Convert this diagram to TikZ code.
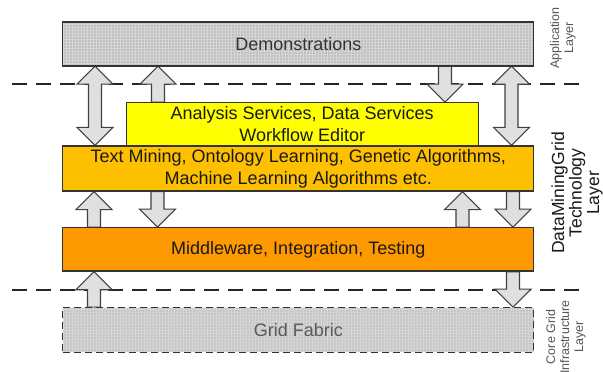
\documentclass[tikz,border=0pt]{standalone}
\usepackage{fontspec}
\setmainfont{Liberation Sans}
\usetikzlibrary{calc,patterns.meta}

\definecolor{boxline}{HTML}{333333}
\definecolor{demogray}{HTML}{C0C0C0}
\definecolor{gridgray}{HTML}{C6C6C6}
\definecolor{svcyellow}{HTML}{FFFF00}
\definecolor{algoorange}{HTML}{FFC000}
\definecolor{midorange}{HTML}{FF9900}
\definecolor{arrowfill}{HTML}{E2E2E2}
\definecolor{arrowline}{HTML}{404040}
\definecolor{labelgray}{HTML}{555555}

\pgfdeclarelayer{background}
\pgfsetlayers{background,main}

\tikzset{
  layer/.style={draw=boxline, line width=1.3pt, minimum width=471pt, inner sep=0pt,
    align=center, font=\fontsize{18}{22}\selectfont, text=black!90},
  dotted fill/.style={preaction={fill=#1},
    pattern={Dots[distance=8pt,radius=0.45pt]}, pattern color=black!35},
  mesh fill/.style={preaction={fill=#1},
    pattern={Hatch[distance=3pt,angle=0,line width=0.35pt]}, pattern color=black!16},
  blkarrow/.style={draw=arrowline, line width=1.1pt, line join=miter,
    preaction={fill=arrowfill},
    pattern={Hatch[distance=3pt,angle=45,line width=0.3pt]}, pattern color=black!14},
  sepline/.style={draw=black!85, line width=2pt, dash pattern=on 15pt off 9pt},
  sidelabel/.style={rotate=90, align=center, inner sep=0pt},
}

% block arrows: #1 centre x (pt), then the two boxes they join
\newcommand{\upblock}[3]{% #2 lower box, #3 upper box
  \path[blkarrow] let \p1=(#2.north), \p2=(#3.south) in
    (#1pt-6.5pt,\y1) -- (#1pt-6.5pt,\y2-18pt) -- (#1pt-18pt,\y2-18pt) -- (#1pt,\y2)
    -- (#1pt+18pt,\y2-18pt) -- (#1pt+6.5pt,\y2-18pt) -- (#1pt+6.5pt,\y1) -- cycle;}
\newcommand{\downblock}[3]{% #2 upper box, #3 lower box
  \path[blkarrow] let \p1=(#3.north), \p2=(#2.south) in
    (#1pt-6.5pt,\y2) -- (#1pt-6.5pt,\y1+18pt) -- (#1pt-18pt,\y1+18pt) -- (#1pt,\y1)
    -- (#1pt+18pt,\y1+18pt) -- (#1pt+6.5pt,\y1+18pt) -- (#1pt+6.5pt,\y2) -- cycle;}
\newcommand{\bothblock}[3]{% #2 upper box, #3 lower box
  \path[blkarrow] let \p1=(#3.north), \p2=(#2.south) in
    (#1pt,\y1) -- (#1pt-18pt,\y1+18pt) -- (#1pt-6.5pt,\y1+18pt) -- (#1pt-6.5pt,\y2-18pt)
    -- (#1pt-18pt,\y2-18pt) -- (#1pt,\y2) -- (#1pt+18pt,\y2-18pt) -- (#1pt+6.5pt,\y2-18pt)
    -- (#1pt+6.5pt,\y1+18pt) -- (#1pt+18pt,\y1+18pt) -- cycle;}

\begin{document}
\begin{tikzpicture}[x=1pt, y=-1pt]
  \useasboundingbox (0,0) rectangle (603,372);

  % layer boxes
  \node[layer, mesh fill=demogray, minimum height=44pt, text=black!80]
    (demo) at (298.3,44) {Demonstrations};
  \node[layer, dotted fill=svcyellow, minimum width=352pt, minimum height=43.3pt]
    (svc) at (302.2,124.4) {Analysis Services, Data Services\\Workflow Editor};
  \node[layer, dotted fill=algoorange, minimum height=45pt]
    (algo) at (298.3,168.5) {Text Mining, Ontology Learning, Genetic Algorithms,\\Machine Learning Algorithms etc.};
  \node[layer, dotted fill=midorange, minimum height=43.3pt]
    (mid) at (298.3,249.4) {Middleware, Integration, Testing};
  \node[layer, mesh fill=gridgray, minimum height=44.6pt, dash pattern=on 7pt off 4pt,
    text=black!65] (fabric) at (298.3,330) {Grid Fabric};

  % layer captions
  \node[sidelabel, font=\fontsize{12.5}{14}\selectfont, text=labelgray]
    (applbl) at (563,38) {Application\\Layer};
  \node[sidelabel, font=\fontsize{17.5}{17.5}\selectfont, text=black!90]
    (dmglbl) at (577,193) {DataMiningGrid\\Technology\\Layer};
  \node[sidelabel, font=\fontsize{12.5}{14}\selectfont, text=labelgray]
    (corelbl) at (566,337) {Core Grid\\Infrastructure\\Layer};

  \begin{pgfonlayer}{background}
    \fill[white] (0,0) rectangle (603,372);

    % layer separators
    \coordinate (sepAl) at (12,84);  \coordinate (sepAr) at (579,84);
    \coordinate (sepBl) at (12,290); \coordinate (sepBr) at (579,290);
    \draw[sepline] (sepAl) -- (sepAr);
    \draw[sepline] (sepBl) -- (sepBr);

    % application <-> technology
    \bothblock{95}{demo}{algo}
    \upblock{158}{svc}{demo}
    \downblock{445}{demo}{svc}
    \bothblock{511.5}{demo}{algo}

    % algorithms <-> middleware
    \upblock{94}{mid}{algo}
    \downblock{157.5}{algo}{mid}
    \upblock{462.5}{mid}{algo}
    \downblock{513}{algo}{mid}

    % middleware <-> grid fabric
    \upblock{94}{fabric}{mid}
    \downblock{513}{mid}{fabric}
  \end{pgfonlayer}
\end{tikzpicture}
\end{document}
